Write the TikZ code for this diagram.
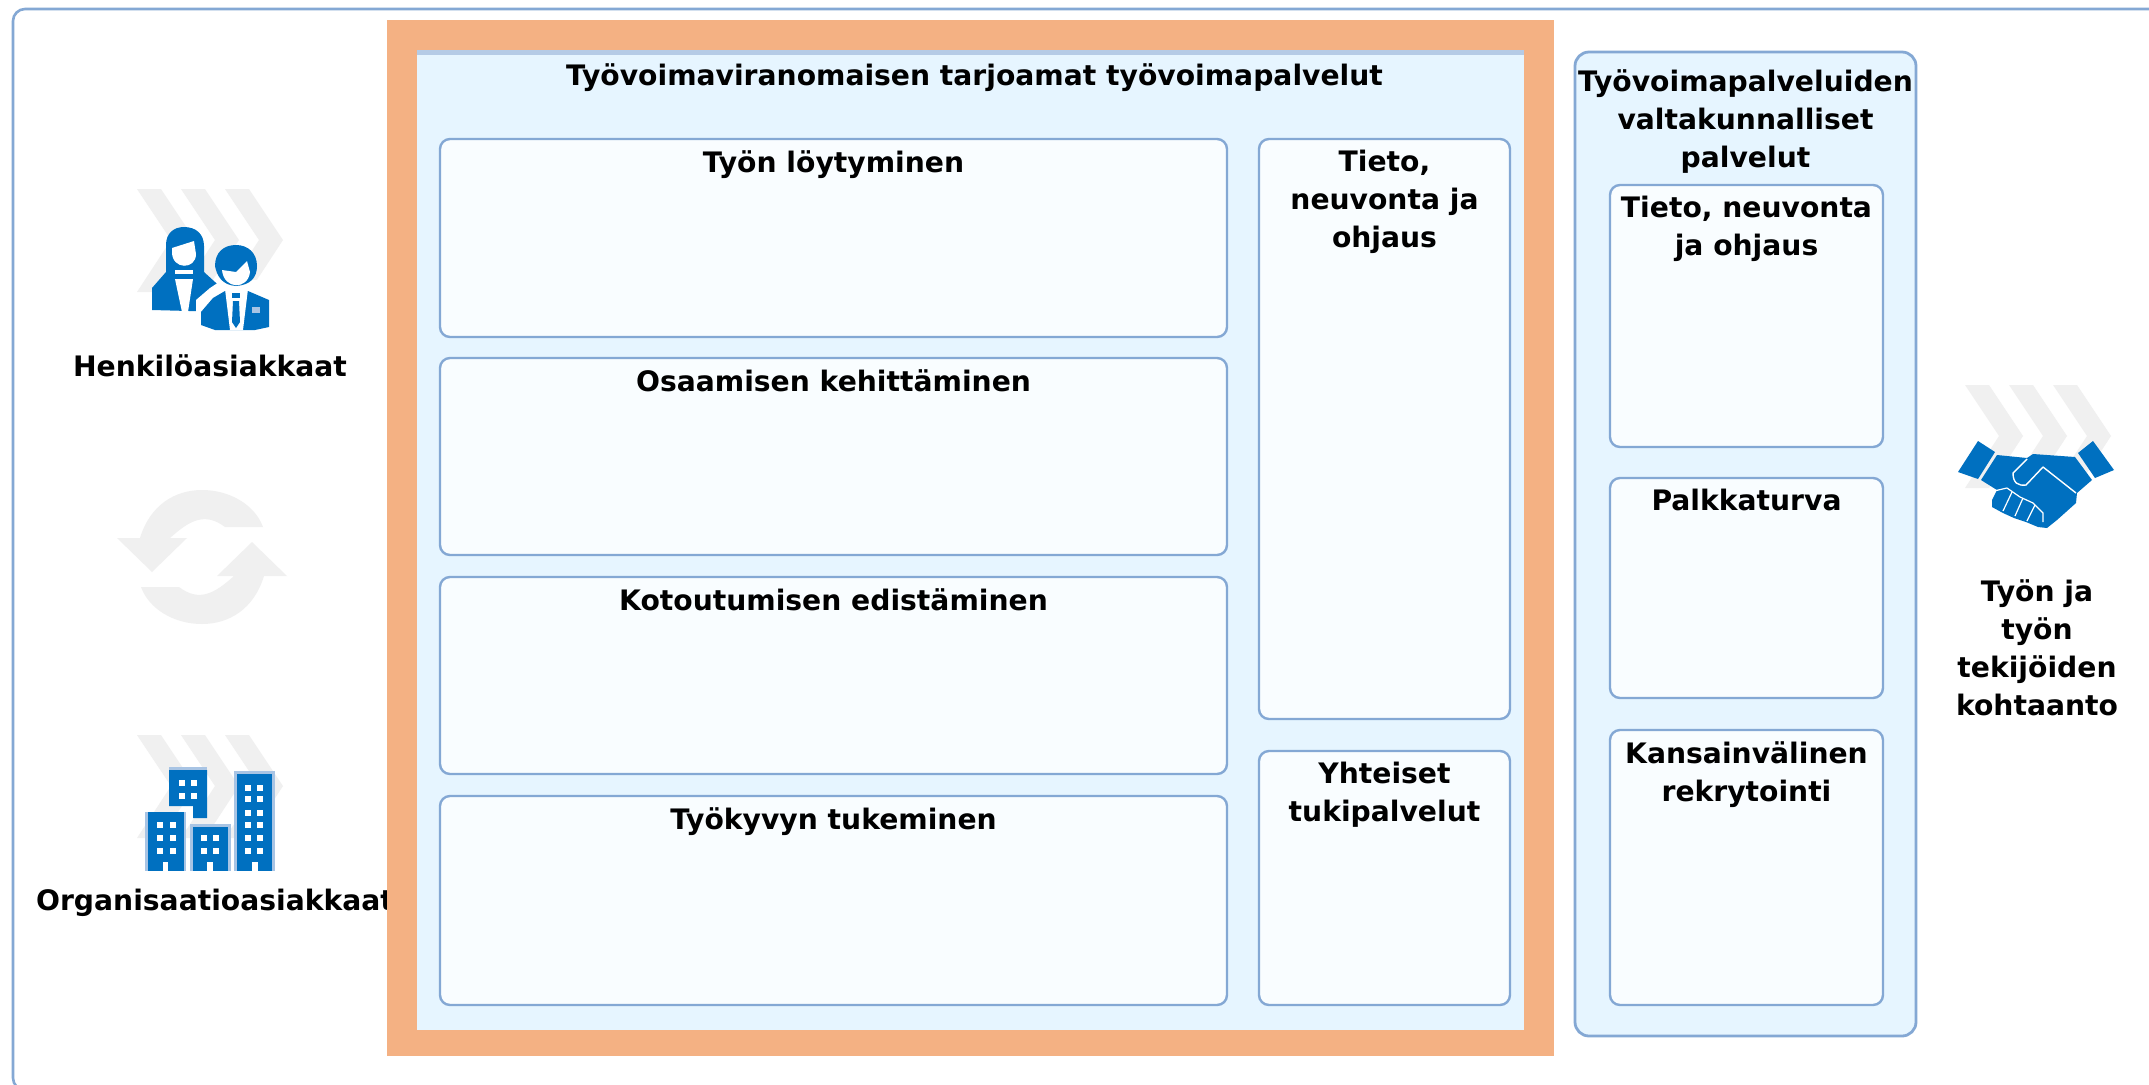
\documentclass[tikz,border=0pt]{standalone}
\usepackage{fontspec}
\setmainfont{DejaVu Sans}
\definecolor{panelfill}{HTML}{E6F5FF}
\definecolor{cardfill}{HTML}{F9FDFF}
\definecolor{edge}{HTML}{84A8D4}
\definecolor{topedge}{HTML}{B5CBE6}
\definecolor{orangeframe}{HTML}{F4B183}
\definecolor{ghost}{HTML}{F0F0F0}
\definecolor{iconblue}{HTML}{0070C0}
\definecolor{halo}{HTML}{A8C4E4}
\tikzset{
  x=0.5pt,y=-0.5pt,
  lab/.style={font=\bfseries\fontsize{14.1}{19}\selectfont,align=center,inner sep=0pt,anchor=north,text=black},
  card/.style={draw=edge,fill=cardfill,line width=1.2pt,rounded corners=5pt},
  panel/.style={draw=edge,fill=panelfill,line width=1.4pt,rounded corners=7pt},
  flat/.style={draw=none,fill=panelfill},
  frameorange/.style={draw=none,fill=orangeframe},
  outerframe/.style={draw=edge,fill=white,line width=1.3pt,rounded corners=6pt}
}
\newcommand{\boxed}[7]{%
  \pgfmathsetmacro{\bw}{(#4-#2)*0.5}\pgfmathsetmacro{\bh}{(#5-#3)*0.5}%
  \node[#7,minimum width=\bw pt,minimum height=\bh pt,inner sep=0pt,outer sep=0pt,anchor=north west] (#1) at (#2,#3) {};%
  \ifx\relax#6\relax\else\node[lab] (#1txt) at ({(#2+#4)/2},{#3+11}) {#6};\fi}
\newcommand{\chev}[2]{%
  \foreach \d in {0,44,88}{
    \fill[ghost] ({#1+\d},#2) -- ++(24,0) -- ++(34,51) -- ++(-34,52) -- ++(-24,0) -- ++(34,-52) -- cycle;}}
\newcommand{\wins}[3]{% x list, y list, size
  \foreach \wx in {#1}{\foreach \wy in {#2}{
    \fill[white] ({\wx-#3/2},{\wy-#3/2}) rectangle ({\wx+#3/2},{\wy+#3/2});}}}
\begin{document}
\begin{tikzpicture}
\useasboundingbox (0,0) rectangle (2149,1084);
\fill[white] (0,0) rectangle (2149,1084);
\boxed{frame}{13}{9}{2175}{1090}{}{outerframe}
% ghost marks
\chev{137}{189}
\chev{137}{735}
\chev{1965}{385}
\fill[ghost] (263,527) -- (225,527) .. controls (205,512) and (190,520) .. (170,538) -- (187,538) -- (152,572) -- (117,538) -- (140,538) .. controls (150,505) and (175,490) .. (202,490) .. controls (230,490) and (255,505) .. (263,527) -- cycle;
\fill[ghost] (141,587) -- (179,587) .. controls (199,602) and (214,594) .. (234,576) -- (217,576) -- (252,542) -- (287,576) -- (264,576) .. controls (254,609) and (229,624) .. (202,624) .. controls (174,624) and (149,609) .. (141,587) -- cycle;
% woman
\fill[iconblue] (166,272) -- (166,245) .. controls (166,233) and (174,227) .. (184,227) .. controls (196,227) and (204,234) .. (204,246) -- (204,272) -- (226,292) -- (226,312) -- (152,310) -- (152,288) -- cycle;
\fill[white] (172,248) -- (194,241) -- (196,254) .. controls (196,270) and (172,270) .. (172,252) -- cycle;
\fill[white] (175,270) rectangle (193,274);
\fill[white] (175,279) -- (193,279) -- (188,312) -- (182,312) -- cycle;
% man
\fill[white] (196,331) -- (196,300) -- (210,288) -- (222,280) -- (262,280) -- (274,300) -- (274,331) -- cycle;
\fill[iconblue] (215,266) .. controls (215,252) and (224,245) .. (236,245) .. controls (248,245) and (257,253) .. (257,266) .. controls (257,278) and (250,285) .. (236,286) .. controls (222,285) and (217,276) .. (215,266) -- cycle;
\fill[white] (222,270) -- (236,272) -- (247,261) -- (250,272) .. controls (248,290) and (224,290) .. (222,270) -- cycle;
\fill[iconblue] (201,312) -- (213,298) -- (225,291) -- (248,291) -- (269,300) -- (269,327) -- (255,330) -- (215,330) -- (201,325) -- cycle;
\fill[white] (225,289) -- (248,289) -- (243,330) -- (230,330) -- cycle;
\fill[iconblue] (232,293) rectangle (240,298);
\fill[iconblue] (233,301) -- (239,301) -- (240,322) -- (236,328) -- (232,322) -- cycle;
\fill[halo] (252,307) rectangle (260,313);
% buildings
\fill[halo] (169,767) rectangle (207,770);
\fill[halo] (190,824) rectangle (231,871);
\fill[halo] (145,812) rectangle (186,871);
\fill[halo] (234,771) rectangle (275,871);
\fill[iconblue] (169,770) -- (207,770) -- (207,818) -- (193,818) -- (193,806) -- (169,806) -- cycle;
\fill[iconblue] (148,812) rectangle (184,871);
\fill[iconblue] (193,827) rectangle (228,871);
\fill[iconblue] (237,774) rectangle (272,871);
\wins{182,194}{783,796}{6}
\wins{160,173}{825,838,851}{6}
\wins{204,216}{838,851}{6}
\wins{248,260}{788,799,813,825,838,851}{6}
\fill[white] (163,862) rectangle (168,871);
\fill[white] (207,862) rectangle (213,871);
\fill[white] (252,862) rectangle (258,871);
% handshake
\fill[iconblue] (1978,441) -- (1995,452) -- (1978,479) -- (1958,472) -- cycle;
\fill[iconblue] (2093,441) -- (2078,453) -- (2095,478) -- (2114,470) -- cycle;
\fill[iconblue] (1997,455) -- (2027,458) -- (2033,454) -- (2075,457) -- (2092,480) -- (2077,493) -- (2076,503) -- (2057,520) -- (2047,528) -- (2038,527) -- (2026,522) -- (2014,518) -- (2003,513) -- (1992,507) -- (1992,500) -- (1997,490) -- (1981,480) -- cycle;
\draw[white,line width=0.7pt,line join=round] (2027,459) -- (2013,473) .. controls (2013,483) and (2018,486) .. (2026,485) -- (2043,467) -- (2076,493);
\draw[white,line width=0.6pt,line join=round] (1994,491) -- (2007,488) -- (2020,497) -- (2033,503) -- (2043,513) -- (2043,522);
\draw[white,line width=0.6pt] (2003,511) -- (2012,492);
\draw[white,line width=0.6pt] (2015,516) -- (2023,498);
\draw[white,line width=0.6pt] (2027,521) -- (2035,505);
% left and right labels
\node[lab,anchor=center] (hen) at (210,366) {Henkilöasiakkaat};
\node[lab,anchor=center] (org) at (215,903) {Organisaatioasiakkaat};
\node[lab] (kohtaanto) at (2037,579) {Työn ja\\työn\\tekijöiden\\kohtaanto};
% main frame
\boxed{orange}{387}{20}{1554}{1056}{}{frameorange}
\boxed{inner}{417}{50}{1524}{1030}{}{flat}
\fill[topedge] (417,50) rectangle (1524,55);
\node[lab,anchor=center] (maintitle) at (974.5,78) {Työvoimaviranomaisen tarjoamat työvoimapalvelut};
\boxed{loyt}{440}{139}{1227}{337}{Työn löytyminen}{card}
\boxed{osa}{440}{358}{1227}{555}{Osaamisen kehittäminen}{card}
\boxed{kot}{440}{577}{1227}{774}{Kotoutumisen edistäminen}{card}
\boxed{kyky}{440}{796}{1227}{1005}{Työkyvyn tukeminen}{card}
\boxed{tieto}{1259}{139}{1510}{719}{Tieto,\\neuvonta ja\\ohjaus}{card}
\boxed{tuki}{1259}{751}{1510}{1005}{Yhteiset\\tukipalvelut}{card}
% national panel
\boxed{valta}{1575}{52}{1916}{1036}{}{panel}
\node[lab] (valtatxt) at (1745.5,69) {Työvoimapalveluiden\\valtakunnalliset\\palvelut};
\boxed{tieto2}{1610}{185}{1883}{447}{Tieto, neuvonta\\ja ohjaus}{card}
\boxed{palkka}{1610}{478}{1883}{698}{Palkkaturva}{card}
\boxed{rekry}{1610}{730}{1883}{1005}{Kansainvälinen\\rekrytointi}{card}
\end{tikzpicture}
\end{document}
